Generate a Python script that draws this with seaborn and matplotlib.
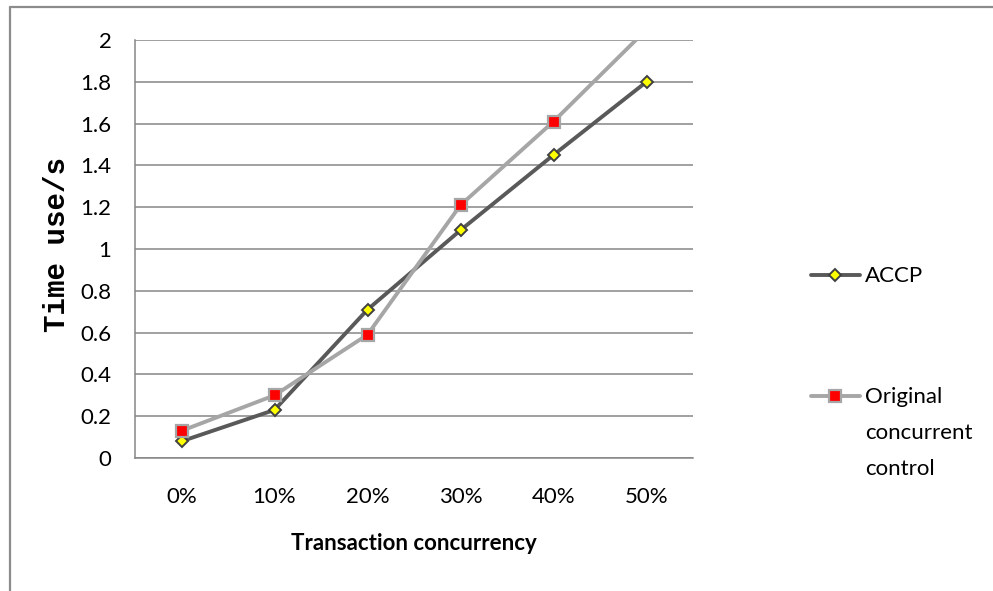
import numpy as np
import pandas as pd
import matplotlib
matplotlib.use("Agg")
import matplotlib.pyplot as plt
import seaborn as sns
from matplotlib.lines import Line2D

# ---- data ----
categories = ["0%", "10%", "20%", "30%", "40%", "50%"]
accp = [0.08, 0.23, 0.71, 1.09, 1.45, 1.80]
original = [0.13, 0.30, 0.59, 1.21, 1.61, 2.05]
y_ticks = [0, 0.2, 0.4, 0.6, 0.8, 1.0, 1.2, 1.4, 1.6, 1.8, 2.0]
y_tick_labels = ["0", "0.2", "0.4", "0.6", "0.8", "1", "1.2", "1.4", "1.6", "1.8", "2"]
series_names = ["ACCP", "Original\nconcurrent\ncontrol"]
x_label = "Transaction concurrency"
y_label = "Time use/s"

sns.set_theme(style="white")
plt.rcParams['font.family'] = ['Lato', 'DejaVu Sans']

W, H = 993, 591
FS = 16
fig = plt.figure(figsize=(W / 100, H / 100), dpi=100)
ax = fig.add_axes([135 / W, 1 - 458 / H, 558 / W, 418 / H])

pos = np.arange(len(categories))
df_a = pd.DataFrame({"x": pos, "y": accp})
df_o = pd.DataFrame({"x": pos, "y": original})

grid_c = "#868686"
sns.lineplot(data=df_a, x="x", y="y", ax=ax, color="#595959", linewidth=2.8,
             marker="D", markersize=6.6, markerfacecolor="#FFFF00",
             markeredgecolor="#404040", markeredgewidth=1.4,
             label=series_names[0], zorder=3)
sns.lineplot(data=df_o, x="x", y="y", ax=ax, color="#A6A6A6", linewidth=2.8,
             marker="s", markersize=9.3, markerfacecolor="#FF0000",
             markeredgecolor="#A6A6A6", markeredgewidth=1.6,
             label=series_names[1], zorder=4)
if ax.get_legend() is not None:
    ax.get_legend().remove()

ax.set_xlim(-0.5, len(categories) - 0.5)
ax.set_ylim(0, 2)
ax.set_yticks(y_ticks)
ax.set_yticklabels(y_tick_labels)
ax.set_xticks(pos)
ax.set_xticklabels(categories)
ax.set_xticks(np.arange(-0.5, len(categories), 1), minor=True)
ax.yaxis.grid(True, color=grid_c, linewidth=1.1)
ax.xaxis.grid(False)
ax.set_axisbelow(True)
for s in ["top", "right"]:
    ax.spines[s].set_visible(False)
for s in ["left", "bottom"]:
    ax.spines[s].set_color(grid_c)
    ax.spines[s].set_linewidth(1.1)

ax.tick_params(axis="x", which="major", length=0, pad=21, labelsize=FS, labelcolor="black")
ax.tick_params(axis="x", which="minor", length=5, width=1.1, color=grid_c, direction="out")
ax.tick_params(axis="y", which="both", length=0, pad=17, labelsize=FS, labelcolor="black")

ax.set_xlabel(x_label, fontsize=FS, fontweight="bold", color="black")
ax.xaxis.set_label_coords(0.5, -(543 - 458) / 418)
ax.xaxis.label.set_va("center")

ax.set_ylabel(y_label, fontsize=21, fontweight="bold", color="black",
              family=["Liberation Mono", "DejaVu Sans Mono"])
ax.yaxis.set_label_coords(-(135 - 57) / 558, 0.51)
ax.yaxis.label.set_va("center")
ax.yaxis.label.set_ha("center")

handles, labels = ax.get_legend_handles_labels()
leg = fig.legend(handles, labels, loc="upper left",
                 bbox_to_anchor=(811 / W, 1 - 266 / H),
                 bbox_transform=fig.transFigure, frameon=False,
                 fontsize=FS, handlelength=2.2, handletextpad=0.22,
                 handleheight=1.1, labelspacing=4.5, borderpad=0, borderaxespad=0)
for col in leg._legend_handle_box.get_children():
    for hp in col.get_children():
        hp.align = "top"
for t in leg.get_texts():
    t.set_linespacing(2.0)
    t.set_color("black")

# outer frame (left and top edges)
fig.add_artist(Line2D([9.5 / W, 9.5 / W], [0, 1 - 6.5 / H], transform=fig.transFigure,
                      color="#8c8c8c", linewidth=1.6))
fig.add_artist(Line2D([9.5 / W, 1], [1 - 6.5 / H, 1 - 6.5 / H], transform=fig.transFigure,
                      color="#8c8c8c", linewidth=1.6))

fig.savefig("out.png", dpi=100)
